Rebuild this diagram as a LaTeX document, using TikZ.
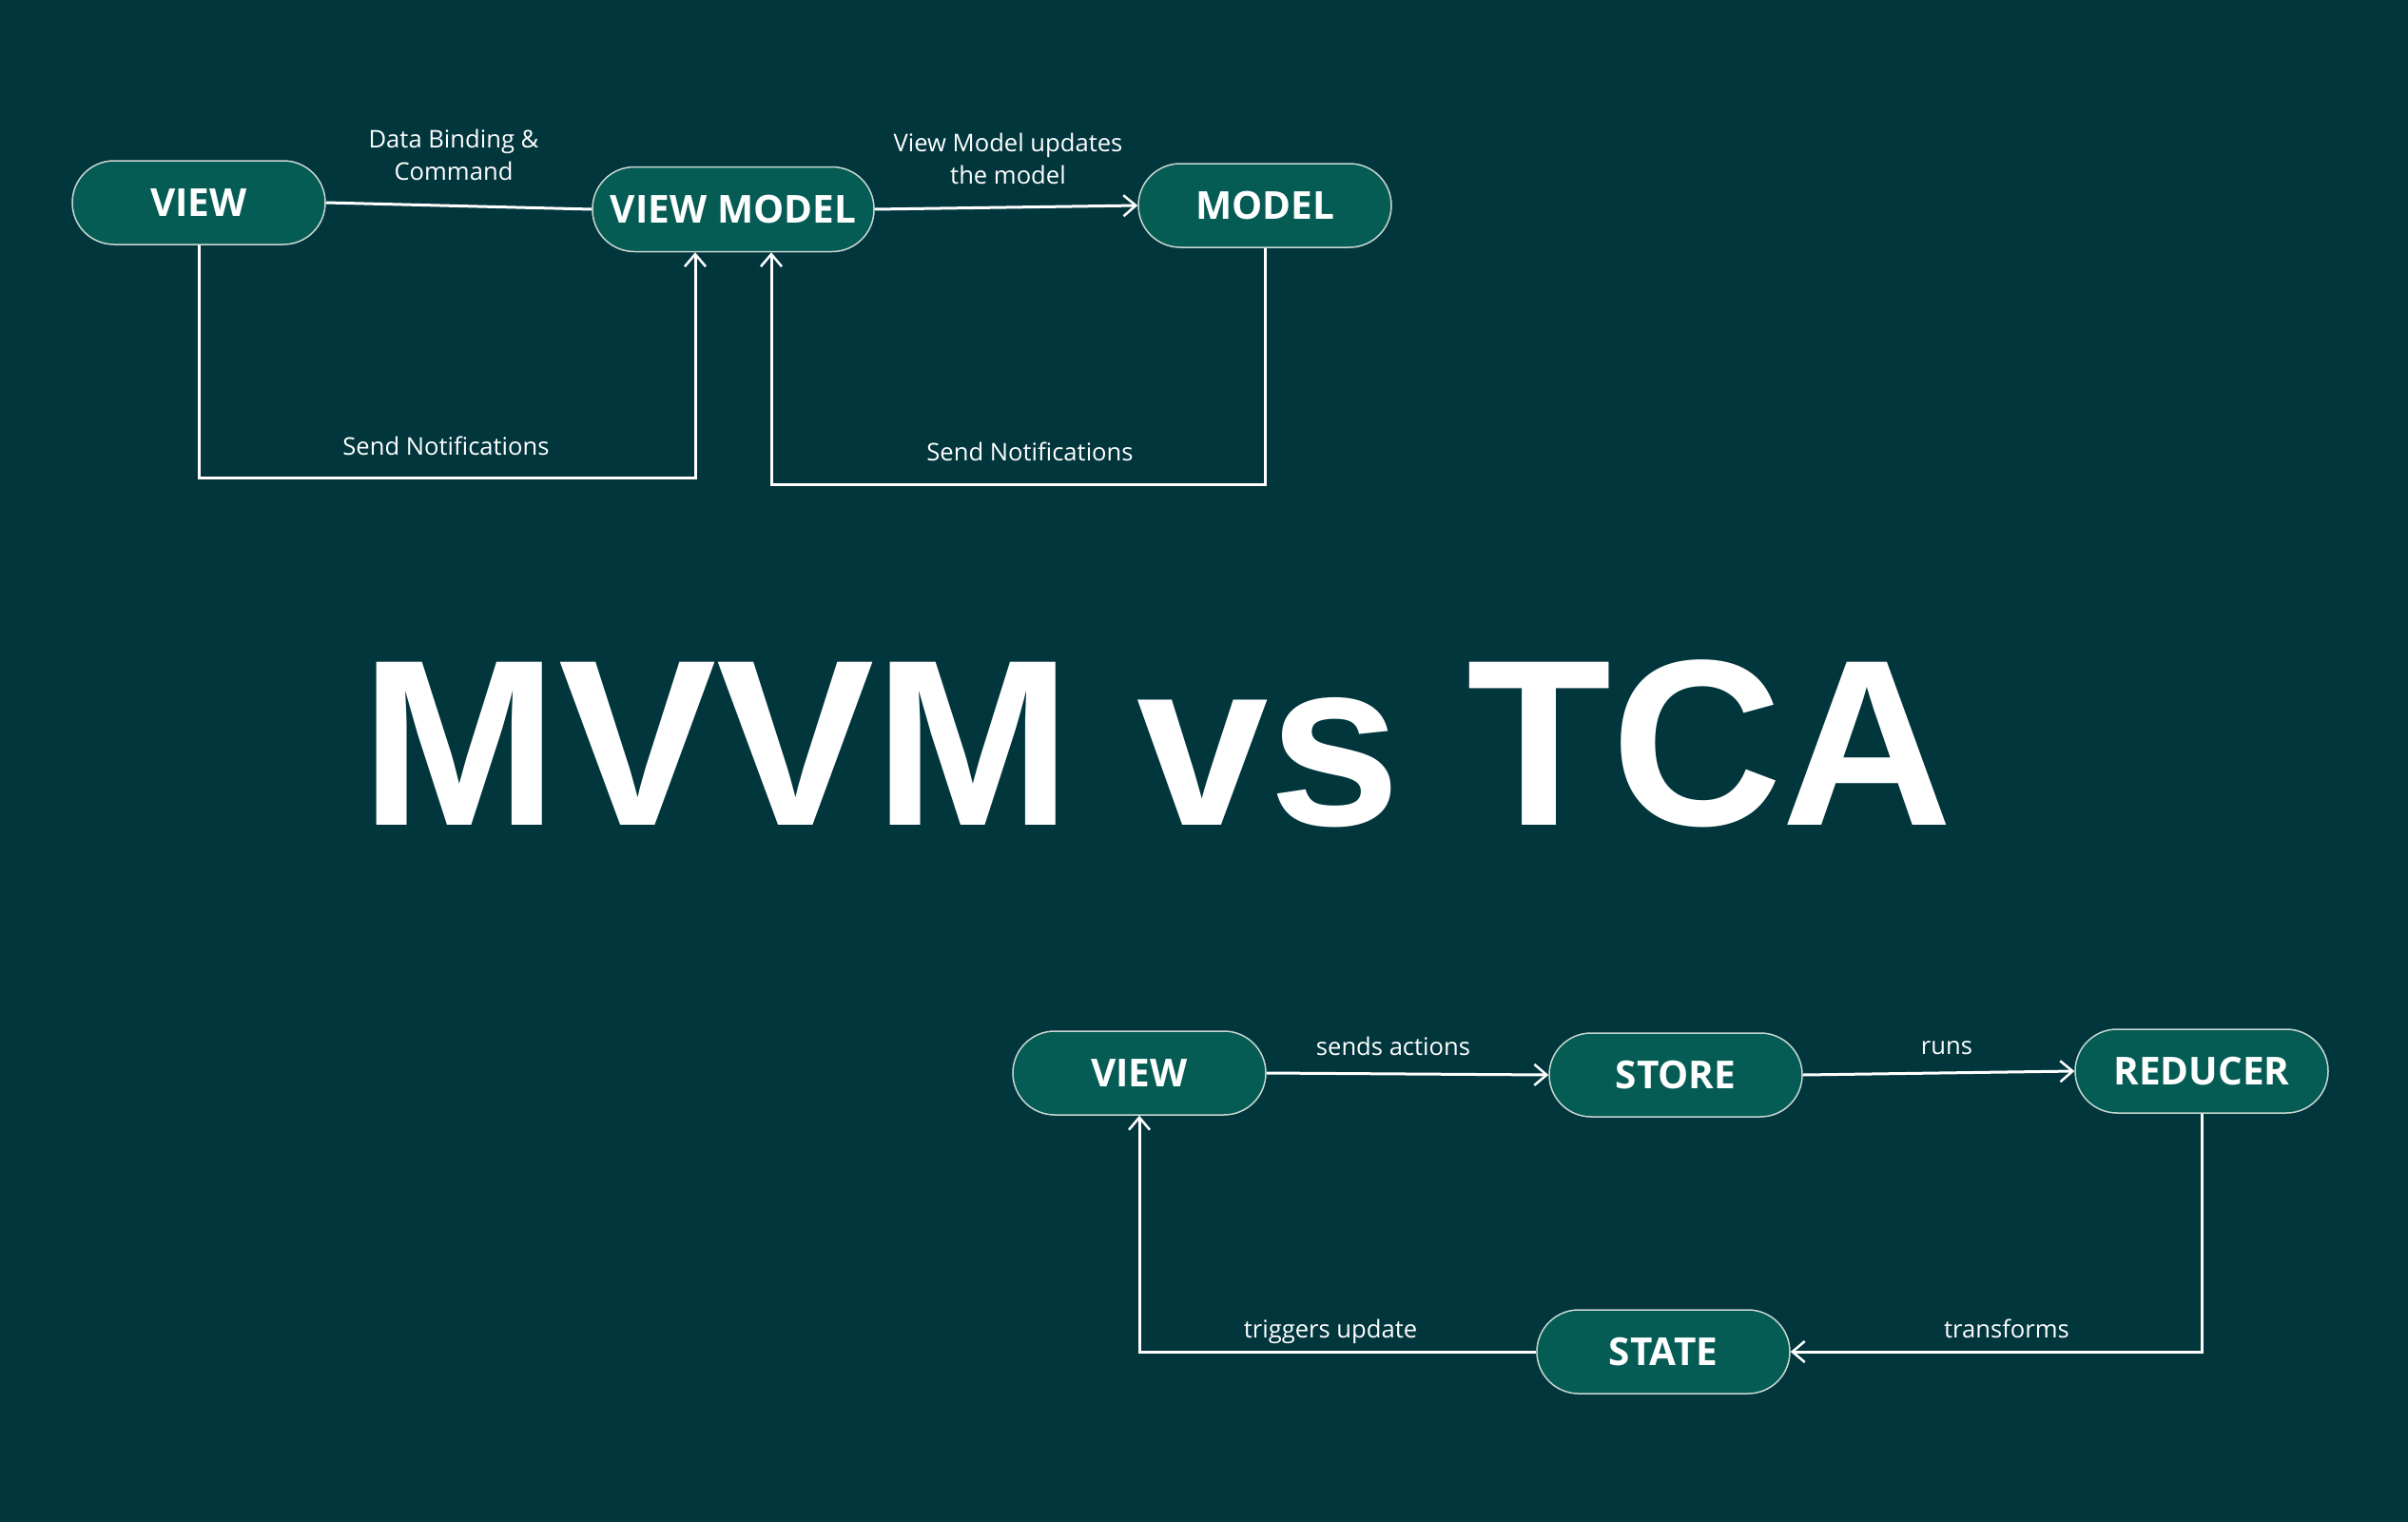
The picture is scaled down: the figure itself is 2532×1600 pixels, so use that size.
\documentclass[tikz,border=0pt]{standalone}
\usepackage{fontspec}
\usepackage{graphicx}
\setmainfont{Open Sans}
\newfontfamily\titlefont{Liberation Sans}
\usetikzlibrary{arrows.meta}
\definecolor{bgc}{RGB}{1,54,61}
\definecolor{nodefill}{RGB}{5,92,84}
\definecolor{nodeline}{RGB}{200,214,210}
\begin{document}
\begin{tikzpicture}[x=1pt,y=-1pt,
  box/.style={draw=nodeline, line width=1.5pt, fill=nodefill, rounded corners=44pt,
    minimum width=266pt, minimum height=88pt, inner sep=0pt, text=white,
    font=\fontsize{40.5}{40.5}\selectfont\bfseries},
  lbl/.style={text=white, font=\fontsize{25.6}{34}\selectfont, inner sep=0pt, align=center},
  conn/.style={draw=white, line width=3pt},
  arr/.style={conn, -{Straight Barb[length=13pt,width=22pt,line width=2.5pt]}},
]
\fill[bgc] (0,0) rectangle (2532,1600);
\useasboundingbox (0,0) rectangle (2532,1600);

% MVVM
\node[box] (v1) at (209,213) {VIEW};
\node[box, minimum width=296pt, minimum height=89pt] (vm) at (771,220) {VIEW MODEL};
\node[box] (m) at (1330,216) {MODEL};

\coordinate (c2) at (731,502);
\coordinate (c3) at (811,509);

\draw[conn] (v1.east) -- (vm.west);
\draw[arr] (vm.east) -- (m.west);
\draw[arr] (v1.south) |- (c2) -- (c2 |- vm.south);
\draw[arr] (m.south) |- (c3) -- (c3 |- vm.south);

\node[lbl, anchor=base] (l1) at (477,189) {Data Binding \&\\Command};
\node[lbl, anchor=base] (l2) at (1060,193) {View Model updates\\the model};
\node[lbl, anchor=base] (l3) at (469,478) {Send Notifications};
\node[lbl, anchor=base] (l4) at (1083,484) {Send Notifications};

% Title
\node[text=white, inner sep=0pt, anchor=base, font=\titlefont\fontsize{249}{249}\selectfont\bfseries] (title) at (1217,867) {\scalebox{1.0}[1]{MVVM vs TCA}};

% TCA
\node[box] (bv) at (1198,1128) {VIEW};
\node[box] (st) at (1762,1130) {STORE};
\node[box] (rd) at (2315,1126) {REDUCER};
\node[box] (sa) at (1749,1421) {STATE};

\draw[arr] (bv.east) -- (st.west);
\draw[arr] (st.east) -- (rd.west);
\draw[arr] (rd.south) |- (sa.east);
\draw[arr] (sa.west) -| (bv.south);

\node[lbl, anchor=base] (l5) at (1465,1109) {sends actions};
\node[lbl, anchor=base] (l6) at (2047,1108) {runs};
\node[lbl, anchor=base] (l7) at (1399,1406) {triggers update};
\node[lbl, anchor=base] (l8) at (2110,1406) {transforms};
\end{tikzpicture}
\end{document}
